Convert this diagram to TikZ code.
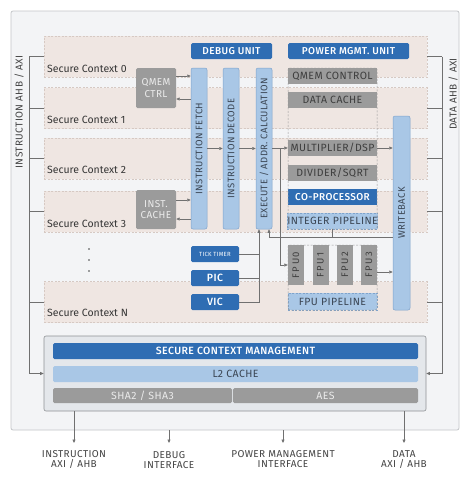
\documentclass[tikz,border=0pt]{standalone}
\usepackage{fontspec}
\setmainfont{Fira Sans}[BoldFont={Fira Sans Medium}]
\newfontfamily\capsfont{Fira Sans}[LetterSpace=4, BoldFont={Fira Sans Medium}]
\usetikzlibrary{arrows.meta,calc}
\definecolor{framefill}{HTML}{F3F4F6}
\definecolor{framedraw}{HTML}{C4C6C9}
\definecolor{bandfill}{HTML}{EFE6E2}
\definecolor{banddraw}{HTML}{D6C9C3}
\definecolor{dblue}{HTML}{2F6DB3}
\definecolor{lblue}{HTML}{A9C7E6}
\definecolor{lbdraw}{HTML}{7FA3CB}
\definecolor{lbtext}{HTML}{3B4654}
\definecolor{gbox}{HTML}{9B9B9B}
\definecolor{gtextdark}{HTML}{3E3E3E}
\definecolor{gtextlight}{HTML}{EBEBEB}
\definecolor{linec}{HTML}{707070}
\definecolor{labc}{HTML}{444444}
\definecolor{scmfill}{HTML}{E4E7EB}
\definecolor{scmdraw}{HTML}{8E9194}
\begin{document}
\begin{tikzpicture}[x=1pt,y=-1pt,
  frame/.style={draw=framedraw, fill=framefill, rounded corners=2pt, line width=0.8pt, inner sep=0pt},
  band/.style={draw=banddraw, fill=bandfill, dash pattern=on 2pt off 1.5pt, line width=0.5pt, inner sep=0pt},
  bandlab/.style={anchor=west, text=labc!80!black, font=\fontsize{10.5}{11}\selectfont, inner sep=0pt},
  bbox/.style={fill=dblue, text=white, rounded corners=1.5pt, inner sep=0pt, font=\capsfont\bfseries\fontsize{10}{11}\selectfont},
  col/.style={fill=lblue, draw=lbdraw, line width=0.5pt, rounded corners=2pt, inner sep=0pt},
  coltext/.style={rotate=90, text=lbtext, inner sep=0pt, font=\capsfont\fontsize{9.5}{10}\selectfont},
  gbx/.style={fill=gbox, text=gtextdark, inner sep=0pt, font=\capsfont\fontsize{10.5}{11}\selectfont},
  gbxl/.style={fill=gbox, text=gtextlight, rounded corners=1.5pt, inner sep=0pt, align=center, font=\capsfont\fontsize{10}{11.5}\selectfont},
  cont/.style={draw=gray!80, dash pattern=on 2pt off 1.5pt, line width=0.5pt, inner sep=0pt, rounded corners=1.5pt},
  lbx/.style={fill=lblue, draw=lbdraw, dash pattern=on 2pt off 1.5pt, line width=0.5pt, text=lbtext, inner sep=0pt, font=\capsfont\fontsize{10.5}{11}\selectfont},
  conn/.style={draw=linec, line width=0.6pt},
  arr/.style={conn, -{Triangle[length=3.5pt,width=3pt]}},
  biglab/.style={text=labc, inner sep=0pt, font=\capsfont\fontsize{10}{10.5}\selectfont, align=center},
]
\useasboundingbox (0,0) rectangle (474,498);
\fill[white] (0,0) rectangle (474,498);

% outer frame
\node[frame, minimum width=448pt, minimum height=419pt] (frame) at (235,220.5) {};

% secure context bands
\node[band, minimum width=383pt, minimum height=41pt] (ctx0) at (235.5,56.5) {};
\node[band, minimum width=383pt, minimum height=41pt] (ctx1) at (235.5,108) {};
\node[band, minimum width=383pt, minimum height=41pt] (ctx2) at (235.5,158.5) {};
\node[band, minimum width=383pt, minimum height=41pt] (ctx3) at (235.5,211.5) {};
\node[band, minimum width=383pt, minimum height=41pt] (ctxN) at (235.5,302) {};
\node[bandlab] (l0) at (47,69) {Secure Context 0};
\node[bandlab] (l1) at (47,120) {Secure Context 1};
\node[bandlab] (l2) at (47,170) {Secure Context 2};
\node[bandlab] (l3) at (47,224) {Secure Context 3};
\node[bandlab] (lN) at (47,313) {Secure Context N};
\fill[labc] (89,249) circle (0.8pt) (89,260) circle (0.8pt) (89,271) circle (0.8pt);

% top units
\node[bbox, minimum width=81pt, minimum height=16pt] (debug) at (231.5,51) {DEBUG UNIT};
\node[bbox, minimum width=121pt, minimum height=16pt] (pmu) at (348.5,51) {POWER MGMT. UNIT};

% pipeline columns
\node[col, minimum width=16pt, minimum height=161pt] (fetch) at (199,148.5) {};
\node[coltext] (fetcht) at (fetch) {INSTRUCTION FETCH};
\node[col, minimum width=16pt, minimum height=161pt] (decode) at (231,148.5) {};
\node[coltext] (decodet) at (decode) {INSTRUCTION DECODE};
\node[col, minimum width=16pt, minimum height=161pt] (exec) at (264,148.5) {};
\node[coltext] (exect) at (exec) {EXECUTE / ADDR. CALCULATION};

% memory blocks
\node[gbxl, minimum width=40pt, minimum height=40pt] (qmem) at (156,88) {QMEM\\CTRL};
\node[gbxl, minimum width=40pt, minimum height=39pt] (icache) at (156,209.5) {INST.\\CACHE};

% integer units
\node[gbx, minimum width=89pt, minimum height=16pt] (qmc) at (332.5,76) {QMEM CONTROL};
\node[gbx, minimum width=89pt, minimum height=16pt] (dcache) at (332.5,100) {DATA CACHE};
\node[gbx, minimum width=89pt, minimum height=16pt] (mult) at (332.5,148) {MULTIPLIER/DSP};
\node[gbx, minimum width=89pt, minimum height=16pt] (div) at (332.5,173) {DIVIDER/SQRT};
\node[bbox, rounded corners=0pt, minimum width=89pt, minimum height=16pt] (cop) at (332.5,197) {CO-PROCESSOR};
\node[lbx, minimum width=89pt, minimum height=16pt] (intp) at (332.5,221) {INTEGER PIPELINE};
\node[cont, minimum width=89pt, minimum height=161pt] (intc) at (332.5,148.5) {};

% writeback
\node[col, minimum width=17pt, minimum height=194pt] (wb) at (401.5,213) {};
\node[coltext] (wbt) at (wb) {WRITEBACK};

% interrupt / timer
\node[bbox, minimum width=48pt, minimum height=16pt, font=\capsfont\fontsize{6}{7}\selectfont] (tick) at (215,254) {TICK TIMER};
\node[bbox, minimum width=48pt, minimum height=16pt, font=\capsfont\bfseries\fontsize{10.5}{11}\selectfont] (pic) at (215,278) {PIC};
\node[bbox, minimum width=48pt, minimum height=16pt, font=\capsfont\bfseries\fontsize{10.5}{11}\selectfont] (vic) at (215,302) {VIC};

% FPU
\node[gbx, minimum width=16pt, minimum height=40pt] (fpu0) at (296,265) {};
\node[gbx, minimum width=16pt, minimum height=40pt] (fpu1) at (320.5,265) {};
\node[gbx, minimum width=16pt, minimum height=40pt] (fpu2) at (345,265) {};
\node[gbx, minimum width=16pt, minimum height=40pt] (fpu3) at (369,265) {};
\node[coltext, text=gtextdark] (fpu0t) at (fpu0) {F\,P\,U\,0};
\node[coltext, text=gtextdark] (fpu1t) at (fpu1) {F\,P\,U\,1};
\node[coltext, text=gtextdark] (fpu2t) at (fpu2) {F\,P\,U\,2};
\node[coltext, text=gtextdark] (fpu3t) at (fpu3) {F\,P\,U\,3};
\node[lbx, minimum width=89pt, minimum height=17pt, font=\capsfont\fontsize{10.5}{11}\selectfont] (fpup) at (332.5,301.5) {FPU PIPELINE};
\node[cont, minimum width=89pt, minimum height=65pt] (fpuc) at (332.5,277.5) {};

% secure context management block
\node[draw=scmdraw, fill=scmfill, line width=0.6pt, rounded corners=2pt, inner sep=0pt, minimum width=382pt, minimum height=75pt] (scm) at (235,373.5) {};
\node[bbox, minimum width=365pt, minimum height=16pt, font=\capsfont\bfseries\fontsize{10.5}{11}\selectfont] (scmb) at (235.5,351) {SECURE CONTEXT MANAGEMENT};
\node[fill=lblue, rounded corners=1.5pt, text=lbtext, inner sep=0pt, font=\capsfont\fontsize{10.5}{11}\selectfont, minimum width=365pt, minimum height=16pt] (l2) at (235.5,374) {L2 CACHE};
\node[gbxl, minimum width=179pt, minimum height=15pt, font=\capsfont\fontsize{10.5}{11}\selectfont] (sha) at (142.5,395.5) {SHA2 / SHA3};
\node[gbxl, minimum width=185pt, minimum height=15pt, font=\capsfont\fontsize{10.5}{11}\selectfont] (aes) at (325.5,395.5) {AES};

% bus labels
\node[biglab, rotate=90] (ibl) at (19,112) {INSTRUCTION AHB / AXI};
\node[biglab, rotate=90] (dbl) at (453,94) {DATA AHB / AXI};

% instruction bus
\coordinate (ib) at (29,0);
\foreach \c in {ctx0,ctx1,ctx2,ctx3,ctxN} { \draw[conn] (\c.west) -- (\c.west -| ib); }
\draw[arr] (ctx0.west -| ib) |- (scm.west);
% data bus
\coordinate (db) at (442,0);
\foreach \c in {ctx0,ctx1,ctx2,ctx3,ctxN} { \draw[conn] (\c.east) -- (\c.east -| db); }
\draw[arr] (ctx0.east -| db) |- (scm.east);

% memory arrows
\coordinate (q1) at ($(qmem.east)+(0,-12)$);
\coordinate (q2) at ($(qmem.east)+(0,11)$);
\draw[arr] (q1) -- (q1 -| fetch.west);
\draw[arr] (q2 -| fetch.west) -- (q2);
\coordinate (c1) at ($(icache.east)+(0,-9.5)$);
\coordinate (c2) at ($(icache.east)+(0,9.5)$);
\draw[arr] (c1) -- (c1 -| fetch.west);
\draw[arr] (c2 -| fetch.west) -- (c2);

% pipeline arrows
\draw[arr] (fetch.east) -- (decode.west);
\draw[arr] (decode.east) -- (exec.west);
\coordinate (e1) at (mult.west -| exec.east);
\draw[arr] (e1) -- (mult.west);
\coordinate (br) at ($(e1)!0.5!(mult.west)$);
\draw[arr] (br) |- (fpu0.west);
\draw[arr] (mult.east) -- (mult.east -| wb.west);
\coordinate (f3) at ($(fpu3.east)+(0,7)$);
\draw[arr] (f3) -- (f3 -| wb.west);

% feedback to execute
\coordinate (fbR) at ($(wb.west |- intp.south)+(0,8)$);
\coordinate (exR) at ($(exec.south)+(5,0)$);
\coordinate (exL) at ($(exec.south)+(-5,0)$);
\draw[arr] (fbR) -| (exR);
\draw[conn] (intp.south) -- (intp.south |- fbR);

% interrupts to execute
\draw[arr] (vic.east) -| (exL);
\draw[conn] (pic.east) -- (pic.east -| exL);
\draw[conn] (tick.east) -- (tick.east -| exL);

% external interfaces
\coordinate (o1) at (74,443);
\coordinate (o2) at (169,443);
\coordinate (o3) at (283,443);
\coordinate (o4) at (404,443);
\draw[arr] (o1 |- scm.south) -- (o1);
\draw[arr] (o2 |- frame.south) -- (o2);
\draw[arr] (o3 |- frame.south) -- (o3);
\draw[arr] (o4 |- scm.south) -- (o4);
\node[biglab, anchor=north] (t1) at ($(o1)+(0,7)$) {INSTRUCTION\\AXI / AHB};
\node[biglab, anchor=north] (t2) at ($(o2)+(0,8)$) {DEBUG\\INTERFACE};
\node[biglab, anchor=north] (t3) at ($(o3)+(0,7)$) {POWER MANAGEMENT\\INTERFACE};
\node[biglab, anchor=north] (t4) at ($(o4)+(0,7)$) {DATA\\AXI / AHB};
\end{tikzpicture}
\end{document}
